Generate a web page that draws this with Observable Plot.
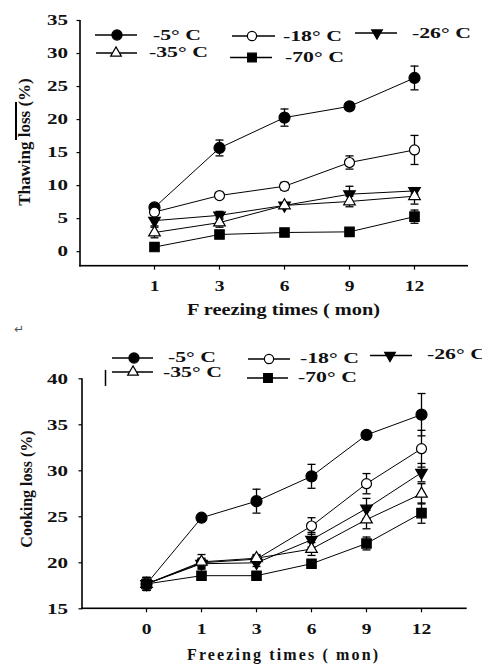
<!DOCTYPE html>
<html><head><meta charset="utf-8">
<script src="https://cdn.jsdelivr.net/npm/d3@7"></script>
<script src="https://cdn.jsdelivr.net/npm/@observablehq/plot@0.6"></script>
<style>
body{margin:0;background:#fff;}
#wrap{position:relative;width:482px;height:664px;overflow:hidden;background:#fff;}
.panel{position:absolute;left:0;}
#overlay{position:absolute;left:0;top:0;pointer-events:none;}
</style></head><body><div id="wrap"></div>
<script>
// ---------- data ----------
const seriesNames = ["-5° C", "-18° C", "-26° C", "-35° C", "-70° C"];

// Thawing loss (%)
const thawMonths = [1, 3, 6, 9, 12];
const thawM5 = [6.7, 15.7, 20.3, 22.0, 26.3];
const thawM5Err = [0.4, 1.2, 1.3, 0.4, 1.8];
const thawM18 = [6.0, 8.5, 9.9, 13.5, 15.4];
const thawM18Err = [0.3, 0.4, 0.6, 1.0, 2.2];
const thawM26 = [4.7, 5.5, 7.0, 8.7, 9.2];
const thawM26Err = [0.8, 0.6, 0.4, 1.2, 0.5];
const thawM35 = [2.9, 4.4, 7.0, 7.6, 8.4];
const thawM35Err = [0.8, 0.7, 0.4, 0.8, 1.2];
const thawM70 = [0.7, 2.6, 2.9, 3.0, 5.3];
const thawM70Err = [0.3, 0.3, 0.2, 0.4, 1.0];
const thawYTicks = [0, 5, 10, 15, 20, 25, 30, 35];

// Cooking loss (%)
const cookMonths = [0, 1, 3, 6, 9, 12];
const cookM5 = [17.7, 24.9, 26.7, 29.4, 33.9, 36.1];
const cookM5Err = [0.7, 0.3, 1.3, 1.3, 0.3, 2.3];
const cookM18 = [17.7, 20.0, 20.4, 24.0, 28.6, 32.4];
const cookM18Err = [0.7, 0.5, 0.4, 0.9, 1.1, 2.0];
const cookM26 = [17.7, 19.9, 20.0, 22.5, 25.9, 29.8];
const cookM26Err = [0.7, 0.5, 0.4, 0.8, 1.1, 1.0];
const cookM35 = [17.7, 20.1, 20.5, 21.5, 24.7, 27.5];
const cookM35Err = [0.7, 0.8, 0.4, 0.7, 1.0, 1.1];
const cookM70 = [17.7, 18.6, 18.6, 19.9, 22.1, 25.4];
const cookM70Err = [0.7, 0.3, 0.3, 0.4, 0.7, 1.1];
const cookYTicks = [15, 20, 25, 30, 35, 40];

// ---------- build tables ----------
function rows(months, vals, errs, name) {
  return months.map((m, i) => ({month: m, value: vals[i], err: errs[i], series: name}));
}
const thawData = [
  ...rows(thawMonths, thawM5, thawM5Err, seriesNames[0]),
  ...rows(thawMonths, thawM18, thawM18Err, seriesNames[1]),
  ...rows(thawMonths, thawM26, thawM26Err, seriesNames[2]),
  ...rows(thawMonths, thawM35, thawM35Err, seriesNames[3]),
  ...rows(thawMonths, thawM70, thawM70Err, seriesNames[4])
];
const cookData = [
  ...rows(cookMonths, cookM5, cookM5Err, seriesNames[0]),
  ...rows(cookMonths, cookM18, cookM18Err, seriesNames[1]),
  ...rows(cookMonths, cookM26, cookM26Err, seriesNames[2]),
  ...rows(cookMonths, cookM35, cookM35Err, seriesNames[3]),
  ...rows(cookMonths, cookM70, cookM70Err, seriesNames[4])
];

// ---------- symbols ----------
const triDown = {draw(ctx, size) {
  const y = Math.sqrt(size / (3 * Math.sqrt(3)));
  ctx.moveTo(0, 2 * y); ctx.lineTo(-Math.sqrt(3) * y, -y); ctx.lineTo(Math.sqrt(3) * y, -y); ctx.closePath();
}};
const capSym = {draw(ctx) { ctx.moveTo(-4, 0); ctx.lineTo(4, 0); }};
const symbolsFor = [d3.symbolCircle, d3.symbolCircle, triDown, d3.symbolTriangle, d3.symbolSquare];
const fillsFor = ["#000", "#fff", "#000", "#fff", "#000"];
const rFor = [5.5, 5, 4.3, 4.3, 5.3];

const FONT = "'Liberation Serif','Times New Roman',serif";

function panel(data, months, o) {
  const marks = [
    Plot.axisY({ticks: o.yticks, tickSize: 3.5, tickPadding: o.yPad, label: null, stroke: "#000", strokeWidth: 1.2}),
    Plot.axisX({ticks: months, tickSize: 4, tickPadding: o.xPad, label: null, stroke: "#000", strokeWidth: 1.2}),
    Plot.line(data, {x: "month", y: "value", z: "series", stroke: "#000", strokeWidth: 1}),
    Plot.ruleX(data, {x: "month", y1: d => d.value - d.err, y2: d => d.value + d.err, stroke: "#000", strokeWidth: 1.3}),
    Plot.dot(data, {x: "month", y: d => d.value + d.err, symbol: capSym, r: 3, fill: "none", stroke: "#000", strokeWidth: 1.3}),
    Plot.dot(data, {x: "month", y: d => d.value - d.err, symbol: capSym, r: 3, fill: "none", stroke: "#000", strokeWidth: 1.3}),
    ...seriesNames.map((s, i) => Plot.dot(data.filter(d => d.series === s), {
      x: "month", y: "value", symbol: symbolsFor[i], r: rFor[i], fill: fillsFor[i], stroke: "#000", strokeWidth: 1.2
    }))
  ];
  return Plot.plot({
    width: 482, height: o.height,
    marginTop: o.mt, marginBottom: o.mb, marginLeft: o.ml, marginRight: o.mr,
    x: {type: "point", domain: months, range: o.xRange, axis: null},
    y: {domain: o.yDomain, axis: null},
    style: {fontFamily: FONT, fontSize: "15px", fontWeight: "bold", color: "#111", background: "transparent", overflow: "visible"},
    marks
  });
}

const wrap = document.getElementById("wrap");
const topOpts = {
  height: 320, offset: 0, mt: 20, mb: 54.3, ml: 80, mr: 14, xRange: [121.7, 446.7],
  yDomain: [-2.2, 35], yticks: thawYTicks, yPad: 9, xPad: 10
};
const botOpts = {
  height: 344, offset: 320, mt: 58.3, mb: 55.7, ml: 82, mr: 15.3, xRange: [116, 451.7],
  yDomain: [15, 40], yticks: cookYTicks, yPad: 11, xPad: 11
};
const topPanel = panel(thawData, thawMonths, topOpts);
topPanel.classList.add("panel"); topPanel.style.top = topOpts.offset + "px";
wrap.appendChild(topPanel);
const botPanel = panel(cookData, cookMonths, botOpts);
botPanel.classList.add("panel"); botPanel.style.top = botOpts.offset + "px";
wrap.appendChild(botPanel);

function stretch(sel, k) {
  sel.each(function() {
    const L = this.getComputedTextLength();
    if (L > 0) { this.setAttribute("textLength", L * k); this.setAttribute("lengthAdjust", "spacingAndGlyphs"); }
  });
}
for (const svg of [topPanel, botPanel]) {
  stretch(d3.select(svg).selectAll('g[aria-label="y-axis tick label"] text'), 1.4);
  stretch(d3.select(svg).selectAll('g[aria-label="x-axis tick label"] text'), 1.3);
}

// ---------- overlay: axis lines, legends and titles ----------
const ov = d3.select(wrap).append("svg").attr("id", "overlay").attr("width", 482).attr("height", 664)
  .style("font-family", FONT).style("font-weight", "bold").style("fill", "#111");

// axis lines as thin filled rectangles, placed from each panel's own y scale range
for (const o of [topOpts, botOpts]) {
  const ys = d3.scaleLinear().domain(o.yDomain).range([o.height - o.mb, o.mt]);
  const yb = ys(o.yDomain[0]) + o.offset, yt = ys(o.yDomain[1]) + o.offset;
  ov.append("rect").attr("x", o.ml - 0.8).attr("y", yt).attr("width", 1.6).attr("height", yb - yt + 0.8)
    .style("fill", "#000");
  ov.append("rect").attr("x", o.ml - 0.8).attr("y", yb - 0.8).attr("width", 482 - o.mr - o.ml + 0.8).attr("height", 1.6)
    .style("fill", "#000");
}

const legendTop = [
  {lx1: 95, lx2: 137, ly: 35, mx: 117, tx: 153, ty: 35},
  {lx1: 232, lx2: 275, ly: 36, mx: 252, tx: 283, ty: 36},
  {lx1: 355, lx2: 397, ly: 33, mx: 377, tx: 412, ty: 33},
  {lx1: 96, lx2: 137, ly: 53, mx: 116, tx: 149, ty: 52},
  {lx1: 230, lx2: 272, ly: 57.5, mx: 252, tx: 285, ty: 57}
];
const legendBot = [
  {lx1: 112, lx2: 153, ly: 358, mx: 134, tx: 168, ty: 357},
  {lx1: 248, lx2: 290, ly: 359, mx: 269, tx: 300, ty: 358},
  {lx1: 370, lx2: 412, ly: 355.5, mx: 390, tx: 427, ty: 354},
  {lx1: 112, lx2: 153, ly: 372, mx: 133, tx: 163, ty: 372},
  {lx1: 247, lx2: 288, ly: 378, mx: 268, tx: 298, ty: 377}
];
function legend(layout) {
  layout.forEach((p, i) => {
    ov.append("line").attr("x1", p.lx1).attr("x2", p.lx2).attr("y1", p.ly).attr("y2", p.ly)
      .attr("stroke", "#000").attr("stroke-width", 1.3);
    ov.append("path").attr("d", d3.symbol(symbolsFor[i], Math.PI * rFor[i] * rFor[i] * 0.85)())
      .attr("transform", `translate(${p.mx},${p.ly})`).attr("fill", fillsFor[i]).attr("stroke", "#000").attr("stroke-width", 1.2);
    ov.append("text").attr("class", "leg").attr("x", p.tx).attr("y", p.ty).attr("dominant-baseline", "central")
      .style("font-size", "15px").text(seriesNames[i]);
  });
}
legend(legendTop);
legend(legendBot);
stretch(ov.selectAll("text.leg"), 1.45);

// y titles
ov.append("text").attr("transform", "translate(30,142) rotate(-90)").attr("text-anchor", "middle")
  .style("font-size", "17px").text("Thawing loss (%)");
ov.append("line").attr("x1", 16).attr("x2", 16).attr("y1", 102).attr("y2", 140).attr("stroke", "#000").attr("stroke-width", 2);
ov.append("text").attr("transform", "translate(32,489) rotate(-90)").attr("text-anchor", "middle")
  .style("font-size", "16px").text("Cooking loss (%)");

// x titles
ov.append("text").attr("x", 187).attr("y", 314.5).attr("textLength", 193).attr("lengthAdjust", "spacingAndGlyphs")
  .style("font-size", "16px").text("F reezing times ( mon)");
ov.append("text").attr("x", 187).attr("y", 660).attr("textLength", 191).attr("lengthAdjust", "spacing")
  .style("font-size", "16px").text("Freezing times ( mon)");

// paragraph mark and stray bar
ov.append("text").attr("x", 14).attr("y", 333).style("font-family", "'DejaVu Sans'").style("font-weight", "normal")
  .style("font-size", "12px").style("fill", "#555").text("↵");
ov.append("line").attr("x1", 105.5).attr("x2", 105.5).attr("y1", 370).attr("y2", 386).attr("stroke", "#000").attr("stroke-width", 1.5);
</script>
</body></html>
